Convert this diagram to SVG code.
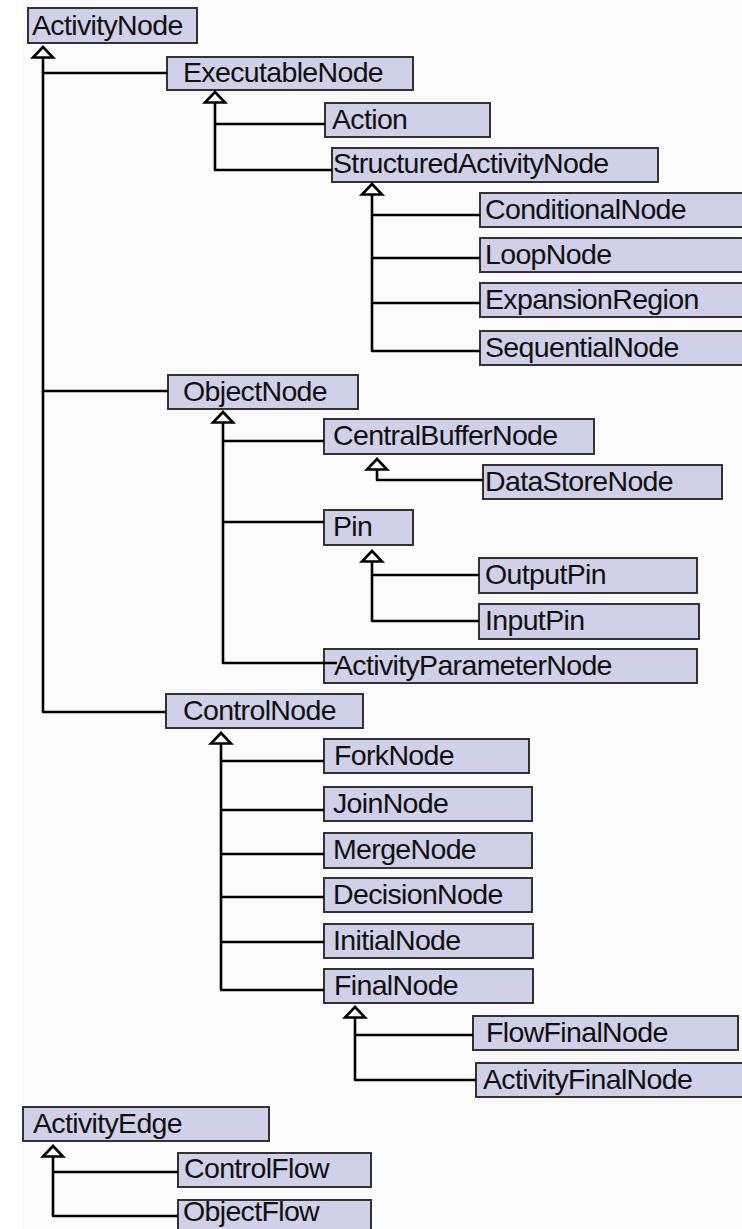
<svg xmlns="http://www.w3.org/2000/svg" width="742" height="1229" viewBox="0 0 742 1229">
<style>
.n rect{fill:#d0d0e8;stroke:#333;stroke-width:2}
.n text{font-family:"Liberation Sans",Arial,sans-serif;font-size:28.5px;letter-spacing:-0.65px;fill:#111}
.c path{fill:none;stroke:#000;stroke-width:2.6;stroke-linejoin:round}
.c polygon{fill:#fff;stroke:#000;stroke-width:2.6;stroke-linejoin:miter}
</style>
<rect x="0" y="0" width="742" height="1229" fill="#fff"/>
<rect x="23" y="0" width="719" height="1229" fill="#fbfbfb"/>
<g id="n-ActivityNode" class="n"><rect x="28" y="8" width="169" height="35"/><text x="32" y="35">ActivityNode</text></g>
<g id="n-ExecutableNode" class="n"><rect x="167" y="57" width="246" height="33"/><text x="183" y="82">ExecutableNode</text></g>
<g id="n-Action" class="n"><rect x="325" y="103" width="165" height="34"/><text x="332" y="129">Action</text></g>
<g id="n-StructuredActivityNode" class="n"><rect x="332" y="148" width="326" height="34"/><text x="333" y="173">StructuredActivityNode</text></g>
<g id="n-ConditionalNode" class="n"><rect x="480" y="193" width="270" height="34"/><text x="485" y="219">ConditionalNode</text></g>
<g id="n-LoopNode" class="n"><rect x="480" y="238" width="270" height="34"/><text x="485" y="264">LoopNode</text></g>
<g id="n-ExpansionRegion" class="n"><rect x="480" y="283" width="270" height="34"/><text x="485" y="309">ExpansionRegion</text></g>
<g id="n-SequentialNode" class="n"><rect x="480" y="331" width="270" height="34"/><text x="485" y="357">SequentialNode</text></g>
<g id="n-ObjectNode" class="n"><rect x="168" y="375" width="190" height="34"/><text x="183" y="401">ObjectNode</text></g>
<g id="n-CentralBufferNode" class="n"><rect x="324" y="419" width="270" height="35"/><text x="333" y="445">CentralBufferNode</text></g>
<g id="n-DataStoreNode" class="n"><rect x="483" y="465" width="239" height="34"/><text x="485" y="491">DataStoreNode</text></g>
<g id="n-Pin" class="n"><rect x="324" y="510" width="89" height="35"/><text x="333" y="536">Pin</text></g>
<g id="n-OutputPin" class="n"><rect x="479" y="558" width="218" height="35"/><text x="485" y="584">OutputPin</text></g>
<g id="n-InputPin" class="n"><rect x="479" y="604" width="220" height="35"/><text x="485" y="630">InputPin</text></g>
<g id="n-ActivityParameterNode" class="n"><rect x="324" y="649" width="373" height="34"/><text x="334" y="675">ActivityParameterNode</text></g>
<g id="n-ControlNode" class="n"><rect x="166" y="694" width="197" height="34"/><text x="183" y="720">ControlNode</text></g>
<g id="n-ForkNode" class="n"><rect x="324" y="739" width="205" height="34"/><text x="334" y="765">ForkNode</text></g>
<g id="n-JoinNode" class="n"><rect x="324" y="787" width="208" height="34"/><text x="333" y="813">JoinNode</text></g>
<g id="n-MergeNode" class="n"><rect x="324" y="833" width="208" height="35"/><text x="333" y="859">MergeNode</text></g>
<g id="n-DecisionNode" class="n"><rect x="324" y="878" width="208" height="34"/><text x="333" y="904">DecisionNode</text></g>
<g id="n-InitialNode" class="n"><rect x="324" y="924" width="209" height="34"/><text x="333" y="950">InitialNode</text></g>
<g id="n-FinalNode" class="n"><rect x="324" y="969" width="209" height="34"/><text x="334" y="995">FinalNode</text></g>
<g id="n-FlowFinalNode" class="n"><rect x="473" y="1016" width="265" height="34"/><text x="486" y="1042">FlowFinalNode</text></g>
<g id="n-ActivityFinalNode" class="n"><rect x="476" y="1063" width="270" height="34"/><text x="483" y="1089">ActivityFinalNode</text></g>
<g id="n-ActivityEdge" class="n"><rect x="23" y="1107" width="246" height="34"/><text x="33" y="1133">ActivityEdge</text></g>
<g id="n-ControlFlow" class="n"><rect x="178" y="1153" width="193" height="34"/><text x="184" y="1178">ControlFlow</text></g>
<g id="n-ObjectFlow" class="n"><rect x="178" y="1200" width="193" height="40"/><text x="183" y="1221">ObjectFlow</text></g>
<g id="connectors" class="c">
<path d="M43 58V712H166M43 73H167M43 391H168"/>
<polygon points="43,47 33,57.5 53,57.5"/>
<path d="M215 103V170H332M215 124H325"/>
<polygon points="215,92 205,102.5 225,102.5"/>
<path d="M372 194V351H480M372 215H480M372 258H480M372 303H480"/>
<polygon points="372,184 362,194.5 382,194.5"/>
<path d="M223 423V663H337M223 441H324M223 522H324"/>
<polygon points="223,412 213,422.5 233,422.5"/>
<path d="M377 470V480H483"/>
<polygon points="377,459 367,469.5 387,469.5"/>
<path d="M372 562V621H479M372 575H479"/>
<polygon points="372,551 362,561.5 382,561.5"/>
<path d="M221 744V990H324M221 761H324M221 810H324M221 854H324M221 897H324M221 942H324"/>
<polygon points="221,733 211,743.5 231,743.5"/>
<path d="M355 1018V1080H476M355 1035H473"/>
<polygon points="355,1007 345,1017.5 365,1017.5"/>
<path d="M53 1157V1216H178M53 1172H178"/>
<polygon points="53,1146 43,1156.5 63,1156.5"/>
</g>
</svg>
